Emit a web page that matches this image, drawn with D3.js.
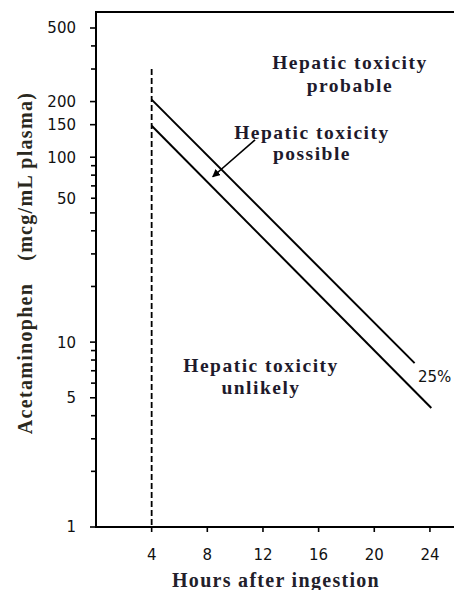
<!DOCTYPE html>
<html><head><meta charset="utf-8">
<script src="https://cdn.jsdelivr.net/npm/d3@7"></script>
<style>body{margin:0;background:#fff}svg{display:block}</style>
</head><body>
<svg id="c" width="454" height="590"></svg>
<script>
// ---- data ----
const xTicks = [4, 8, 12, 16, 20, 24];
const yMajorTicks = [1, 5, 10, 50, 100, 150, 200, 500];
const yMinorTicks = [2, 3, 4, 6, 7, 8, 9, 20, 30, 40, 60, 70, 80, 90, 300, 400];
const yTickLabels = ["1", "5", "10", "50", "100", "150", "200", "500"];
const yTickLabelAt = [1, 5, 10, 60, 100, 150, 200, 500]; // where the picture prints each label
const line200 = [{h: 4, v: 205}, {h: 22.9, v: 7.7}];
const line150 = [{h: 4, v: 148}, {h: 24.1, v: 4.4}];
const dashed4h = [{h: 4, v: 300}, {h: 4, v: 1}];
const arrowPossible = [{h: 11.43, v: 124}, {h: 8.39, v: 78.4}];
const zoneLabels = [
  {h: 18.25, v: 300, lines: ["Hepatic toxicity", "probable"], gap: 23},
  {h: 15.52, v: 125.5, lines: ["Hepatic toxicity", "possible"], gap: 21},
  {h: 11.86, v: 6.9, lines: ["Hepatic toxicity", "unlikely"], gap: 22}
];
const lineLabel = {h: 23.14, v: 6.1, text: "25%"};

// ---- layout ----
const svg = d3.select("#c");
const mLeft = 96, mRight = 454, mTop = 12, mBottom = 527;
const x = d3.scaleLinear().domain([0, 25.73]).range([mLeft, mRight]);
const y = d3.scaleLog().domain([1, 500]).range([mBottom, 28]);
const serif = "'Liberation Serif', 'Times New Roman', serif";
const sans = "'DejaVu Sans', sans-serif";

// frame (top, left, bottom)
svg.append("path")
  .attr("d", `M${mRight},${mTop}H${mLeft}V${mBottom}H${mRight}`)
  .attr("fill", "none").attr("stroke", "#000").attr("stroke-width", 2);

// y ticks
const gy = svg.append("g");
gy.selectAll(".maj").data(yMajorTicks).join("line").attr("class", "maj")
  .attr("x1", mLeft - 6).attr("x2", mLeft).attr("y1", d => y(d)).attr("y2", d => y(d))
  .attr("stroke", "#000").attr("stroke-width", 1.6);
gy.selectAll(".min").data(yMinorTicks).join("line").attr("class", "min")
  .attr("x1", mLeft - 5).attr("x2", mLeft).attr("y1", d => y(d)).attr("y2", d => y(d))
  .attr("stroke", "#000").attr("stroke-width", 1.6);
gy.selectAll("text").data(yTickLabels).join("text")
  .attr("x", mLeft - 20).attr("y", (d, i) => y(yTickLabelAt[i]))
  .attr("dy", "0.36em").attr("text-anchor", "end")
  .attr("font-family", sans).attr("font-size", 15).attr("fill", "#111")
  .text(d => d);

// x axis ticks
const gx = svg.append("g");
gx.selectAll("line").data(xTicks).join("line")
  .attr("x1", d => x(d)).attr("x2", d => x(d)).attr("y1", mBottom).attr("y2", mBottom + 5)
  .attr("stroke", "#000").attr("stroke-width", 1.6);
gx.selectAll("text").data(xTicks).join("text")
  .attr("x", d => x(d)).attr("y", mBottom + 33).attr("text-anchor", "middle")
  .attr("font-family", sans).attr("font-size", 15).attr("fill", "#111")
  .text(d => d);

// axis titles
svg.append("text")
  .attr("x", 276).attr("y", 587).attr("text-anchor", "middle")
  .attr("font-family", serif).attr("font-weight", "bold").attr("font-size", 20)
  .attr("letter-spacing", 1.3).attr("fill", "#22202a")
  .text("Hours after ingestion");
const yt = svg.append("text")
  .attr("transform", "translate(32,263) rotate(-90)").attr("text-anchor", "middle")
  .attr("font-family", serif).attr("font-weight", "bold").attr("font-size", 20)
  .attr("letter-spacing", 1.3).attr("fill", "#2a2820");
yt.append("tspan").text("Acetaminophen");
yt.append("tspan").attr("dx", 22).text("(mcg/mL plasma)");

// lines
const ln = d3.line().x(d => x(d.h)).y(d => y(d.v));
svg.append("path").attr("d", ln(dashed4h)).attr("fill", "none")
  .attr("stroke", "#000").attr("stroke-width", 1.8).attr("stroke-dasharray", "6,3");
[line200, line150].forEach(l => {
  svg.append("path").attr("d", ln(l)).attr("fill", "none")
    .attr("stroke", "#000").attr("stroke-width", 2);
});

// arrow
svg.append("defs").append("marker").attr("id", "ah")
  .attr("viewBox", "0 0 10 10").attr("refX", 9).attr("refY", 5)
  .attr("markerWidth", 5).attr("markerHeight", 5).attr("orient", "auto")
  .append("path").attr("d", "M0,0L10,5L0,10Z").attr("fill", "#000");
svg.append("path").attr("d", ln(arrowPossible)).attr("fill", "none")
  .attr("stroke", "#000").attr("stroke-width", 1.6).attr("marker-end", "url(#ah)");

// zone labels
zoneLabels.forEach(z => {
  const t = svg.append("text").attr("x", x(z.h)).attr("y", y(z.v))
    .attr("text-anchor", "middle").attr("font-family", serif)
    .attr("font-weight", "bold").attr("font-size", 19.5).attr("letter-spacing", 1.5)
    .attr("fill", "#1e1a2c");
  z.lines.forEach((s, i) => t.append("tspan").attr("x", x(z.h)).attr("dy", i ? z.gap : 0).text(s));
});
svg.append("text").attr("x", x(lineLabel.h)).attr("y", y(lineLabel.v))
  .attr("font-family", sans).attr("font-size", 15).attr("fill", "#111")
  .text(lineLabel.text);
</script>
</body></html>
